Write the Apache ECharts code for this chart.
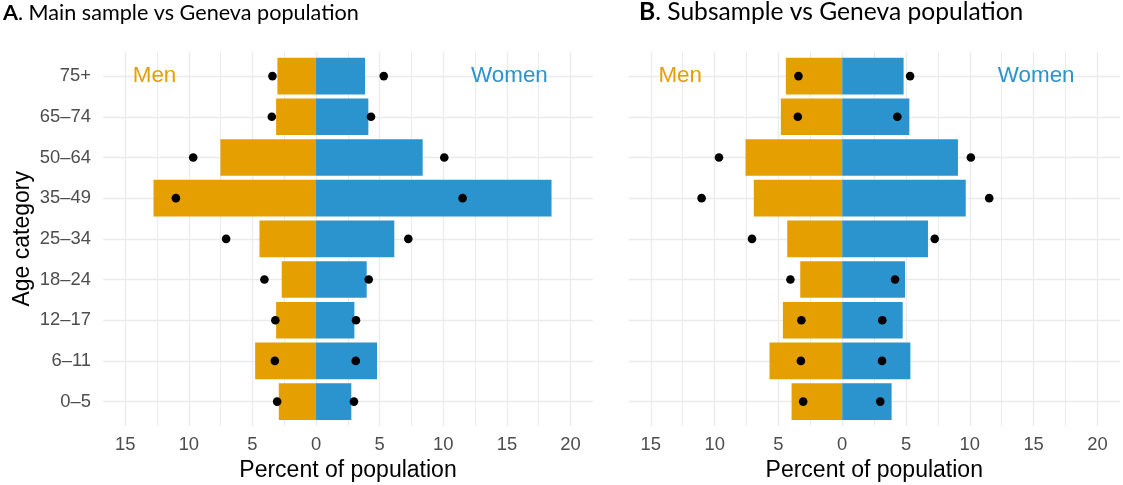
<!DOCTYPE html>
<html>
<head>
<meta charset="utf-8">
<script src="https://cdn.jsdelivr.net/npm/echarts@6/dist/echarts.min.js"></script>
<style>
  html, body { margin: 0; background: #fff; }
  #chart { width: 1123px; height: 485px; }
</style>
</head>
<body>
<div id="chart"></div>
<script>
// categories, bottom to top
const ageCats = ['0–5', '6–11', '12–17', '18–24', '25–34', '35–49', '50–64', '65–74', '75+'];
// Geneva population (points), same in both panels
const genevaMen   = [3.06, 3.24, 3.20, 4.06, 7.07, 11.02, 9.66, 3.48, 3.43];
const genevaWomen = [2.98, 3.12, 3.14, 4.14, 7.25, 11.52, 10.08, 4.32, 5.32];
// A: main sample
const mainMen   = [2.93, 4.79, 3.14, 2.70, 4.45, 12.78, 7.52, 3.14, 3.04];
const mainWomen = [2.77, 4.79, 3.01, 3.98, 6.15, 18.51, 8.38, 4.11, 3.85];
// B: subsample
const subMen   = [3.97, 5.70, 4.65, 3.29, 4.31, 6.93, 7.58, 4.81, 4.42];
const subWomen = [3.87, 5.34, 4.74, 4.92, 6.72, 9.68, 9.07, 5.26, 4.81];
// x ticks
const majorTicks = [-15, -10, -5, 0, 5, 10, 15, 20];
const minorTicks = [-12.5, -7.5, -2.5, 2.5, 7.5, 12.5, 17.5];
const catIdx = ageCats.map((c, i) => i);

const ORANGE = '#E69F00', BLUE = '#2B93CD', GRID = '#EBEBEB';
const XMIN = -16.75, XMAX = 21.77;
const TOP = 51.7, BOT = 59;        // panel edges (px from top / bottom)
const band = (485 - TOP - BOT) / 9.2;
const font = 'Liberation Sans';

let myChart = echarts.init(document.getElementById('chart'));

let grids = [], xAxes = [], yAxes = [], series = [], titles = [];

function panel(p, men, women, left, right, showY, title, titleLeft, titleTop, titleSize) {
    let g = grids.length;
    // background grid (gridlines, labels) and data grid (bars, points)
    grids.push({ left: left, right: right, top: TOP, bottom: BOT, outerBoundsMode: 'none', containLabel: false });
    grids.push({ left: left, right: right, top: TOP + 0.1 * band, bottom: BOT + 0.1 * band, outerBoundsMode: 'none', containLabel: false });
    let xa = xAxes.length, ya = yAxes.length;
    // major x axis with labels
    xAxes.push({
        type: 'value', gridIndex: g, min: XMIN, max: XMAX,
        axisLine: { show: false }, axisTick: { show: false, customValues: majorTicks },
        axisLabel: { customValues: majorTicks, formatter: v => Math.abs(v), color: '#4D4D4D', fontSize: 18.4, fontFamily: font, margin: 10 },
        splitLine: { show: true, lineStyle: { color: GRID, width: 1.3 } },
        name: 'Percent of population', nameLocation: 'middle', nameGap: 32,
        nameTextStyle: { color: '#000', fontSize: 23, fontFamily: font }
    });
    // minor gridlines
    xAxes.push({
        type: 'value', gridIndex: g, min: XMIN, max: XMAX, position: 'bottom',
        axisLine: { show: false }, axisTick: { show: false, customValues: minorTicks },
        axisLabel: { show: false },
        splitLine: { show: true, lineStyle: { color: GRID, width: 1 } }
    });
    // data x axis
    xAxes.push({
        type: 'value', gridIndex: g + 1, min: XMIN, max: XMAX, show: false, splitLine: { show: false }
    });
    yAxes.push({
        type: 'value', gridIndex: g, min: -0.6, max: 8.6,
        axisLine: { show: false }, axisTick: { show: false, customValues: catIdx },
        axisLabel: { show: showY, customValues: catIdx, formatter: v => ageCats[Math.round(v)], color: '#4D4D4D', fontSize: 18.4, fontFamily: font, margin: 12 },
        splitLine: { show: true, lineStyle: { color: GRID, width: 1.3 } },
        name: showY ? 'Age category' : '', nameLocation: 'middle', nameGap: 69,
        nameTextStyle: { color: '#000', fontSize: 23, fontFamily: font }
    });
    yAxes.push({
        type: 'category', gridIndex: g + 1, data: ageCats, show: false
    });
    series.push({
        type: 'bar', xAxisIndex: xa + 2, yAxisIndex: ya + 1, data: men.map(v => -v),
        barWidth: '90%', barGap: '-100%', itemStyle: { color: ORANGE }, silent: true
    });
    series.push({
        type: 'bar', xAxisIndex: xa + 2, yAxisIndex: ya + 1, data: women,
        barWidth: '90%', barGap: '-100%', itemStyle: { color: BLUE }, silent: true
    });
    series.push({
        type: 'scatter', xAxisIndex: xa + 2, yAxisIndex: ya + 1, z: 4,
        data: genevaMen.map((v, i) => [-v, ageCats[i]]),
        symbolSize: 8.6, itemStyle: { color: '#000', opacity: 1 }, silent: true
    });
    series.push({
        type: 'scatter', xAxisIndex: xa + 2, yAxisIndex: ya + 1, z: 4,
        data: genevaWomen.map((v, i) => [v, ageCats[i]]),
        symbolSize: 8.6, itemStyle: { color: '#000', opacity: 1 }, silent: true
    });
    // Men / Women annotations
    series.push({
        type: 'scatter', xAxisIndex: xa, yAxisIndex: ya, symbolSize: 0, silent: true,
        itemStyle: { opacity: 1 },
        data: [
            { value: [-12.7, 8], label: { formatter: 'Men', color: ORANGE } },
            { value: [15.2, 8], label: { formatter: 'Women', color: BLUE } }
        ],
        label: { show: true, position: 'inside', fontSize: 22.4, fontFamily: font }
    });
    titles.push({
        text: '{b|' + p + '}. ' + title, left: titleLeft, top: titleTop,
        textStyle: {
            fontSize: titleSize, fontFamily: 'Lato', fontWeight: 'normal', color: '#000',
            rich: { b: { fontSize: titleSize, fontFamily: 'Lato', fontWeight: 'bold', color: '#000' } }
        }
    });
}

panel('A', mainMen, mainWomen, 103, 530, true, 'Main sample vs Geneva population', -2, -2.5, 21.6);
panel('B', subMen, subWomen, 628.5, 3, false, 'Subsample vs Geneva population', 634, -5.7, 24.6);

var option = {
    animation: false,
    title: titles,
    grid: grids,
    xAxis: xAxes,
    yAxis: yAxes,
    series: series
};
myChart.setOption(option);
</script>
</body>
</html>
